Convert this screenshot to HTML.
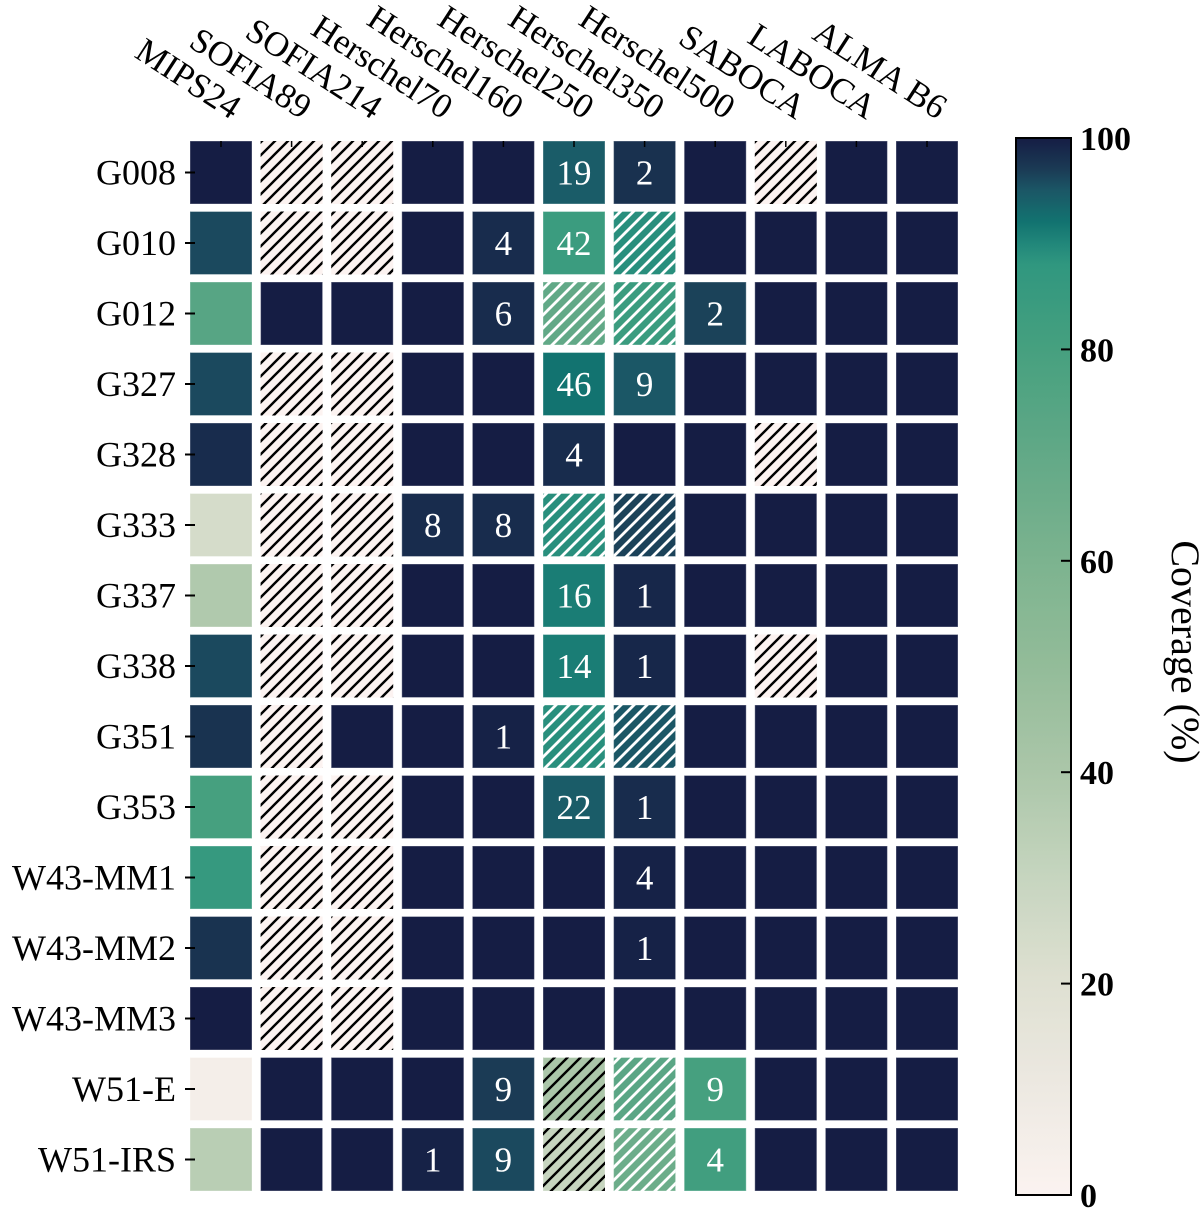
<!DOCTYPE html>
<html><head><meta charset="utf-8"><style>
html,body{margin:0;padding:0;background:#fff;}
svg{display:block;font-family:"Liberation Serif",serif;}
</style></head><body>
<svg id="chart" width="1200" height="1212" viewBox="0 0 1200 1212">
<defs>
<pattern id="hatch-b" patternUnits="userSpaceOnUse" width="13" height="13"><path d="M-1,1 l2,-2 M0,13 l13,-13 M12,14 l2,-2" stroke="#000" stroke-width="2.4"/></pattern>
<pattern id="hatch-w" patternUnits="userSpaceOnUse" width="13" height="13"><path d="M-1,1 l2,-2 M0,13 l13,-13 M12,14 l2,-2" stroke="#fff" stroke-width="2.8"/></pattern>
<linearGradient id="cbar-grad" x1="0" y1="1" x2="0" y2="0"></linearGradient>
</defs>
<g id="cells"></g>
<g id="xlabels"></g>
<g id="ylabels"></g>
<g id="cbar"></g>
<text x="1172" y="652" font-size="40" text-anchor="middle" transform="rotate(90 1172 652)">Coverage (%)</text>
</svg>
<script>
const columns = ["MIPS24","SOFIA89","SOFIA214","Herschel70","Herschel160","Herschel250","Herschel350","Herschel500","SABOCA","LABOCA","ALMA B6"];
const rows = ["G008","G010","G012","G327","G328","G333","G337","G338","G351","G353","W43-MM1","W43-MM2","W43-MM3","W51-E","W51-IRS"];
// coverage (%) per cell; null = not available
const coverage = [
 [100,null,null,100,100,94.5,98,100,null,100,100],
 [96,null,null,100,98.5,84,89,100,100,100,100],
 [74,100,100,100,98.5,70,84,96.5,100,100,100],
 [96,null,null,100,100,92,95,100,100,100,100],
 [98.5,null,null,100,100,98.5,100,100,null,100,100],
 [24,null,null,98.5,98.5,89,96.5,100,100,100,100],
 [38,null,null,100,100,91,99,100,100,100,100],
 [96,null,null,100,100,91,99,100,null,100,100],
 [97.8,null,100,100,99.5,89,95,100,100,100,100],
 [80,null,null,100,100,94.5,98.5,100,100,100,100],
 [86,null,null,100,100,100,99.5,100,100,100,100],
 [97.8,null,null,100,100,100,99.5,100,100,100,100],
 [100,null,null,100,100,100,100,100,100,100,100],
 [5,100,100,100,97,40,73,80,100,100,100],
 [35,100,100,99.5,96,30,66,82,100,100,100]
];
// printed annotations
const annotations = [
 ["","","","","","19","2","","","",""],
 ["","","","","4","42","","","","",""],
 ["","","","","6","","","2","","",""],
 ["","","","","","46","9","","","",""],
 ["","","","","","4","","","","",""],
 ["","","","8","8","","","","","",""],
 ["","","","","","16","1","","","",""],
 ["","","","","","14","1","","","",""],
 ["","","","","1","","","","","",""],
 ["","","","","","22","1","","","",""],
 ["","","","","","","4","","","",""],
 ["","","","","","","1","","","",""],
 ["","","","","","","","","","",""],
 ["","","","","9","","","9","","",""],
 ["","","","1","9","","","4","","",""]
];
// hatch flags: w = white hatch over colour, b = black hatch over colour
const hatches = [
 ["","","","","","","","","","",""],
 ["","","","","","","w","","","",""],
 ["","","","","","w","w","","","",""],
 ["","","","","","","","","","",""],
 ["","","","","","","","","","",""],
 ["","","","","","w","w","","","",""],
 ["","","","","","","","","","",""],
 ["","","","","","","","","","",""],
 ["","","","","","w","w","","","",""],
 ["","","","","","","","","","",""],
 ["","","","","","","","","","",""],
 ["","","","","","","","","","",""],
 ["","","","","","","","","","",""],
 ["","","","","","b","w","","","",""],
 ["","","","","","b","w","","","",""]
];
const cbarTicks = [0,20,40,60,80,100];

const stops = [[0,"#fbf3f0"],[10,"#ede9e2"],[20,"#dfe0d2"],[30,"#c6d5bf"],[40,"#abc6a9"],[50,"#93bc99"],[60,"#7cb38f"],[70,"#62a987"],[80,"#46a07f"],[88,"#30977f"],[90,"#21877a"],[92,"#127370"],[95,"#1b5766"],[97,"#1b3b55"],[100,"#151d44"]];
function hex(c){return [1,3,5].map(i=>parseInt(c.substr(i,2),16));}
function cmap(v){
  v=Math.max(0,Math.min(100,v));
  for(let i=1;i<stops.length;i++){
    if(v<=stops[i][0]){
      const [a,ca]=stops[i-1],[b,cb]=stops[i];
      const t=(v-a)/(b-a),A=hex(ca),B=hex(cb);
      return "rgb("+A.map((x,k)=>Math.round(x+(B[k]-x)*t)).join(",")+")";
    }
  }
  return stops[stops.length-1][1];
}
const NS="http://www.w3.org/2000/svg";
function mk(tag,attrs,parent){const e=document.createElementNS(NS,tag);for(const k in attrs)e.setAttribute(k,attrs[k]);parent.appendChild(e);return e;}
const X0=190,XP=70.6,CW=62,Y0=141,YP=70.5,CH=63;
const xPos=i=>X0+i*XP, yPos=j=>Y0+j*YP;
const cells=document.getElementById("cells");
rows.forEach((r,j)=>{
  columns.forEach((c,i)=>{
    const v=coverage[j][i], x=xPos(i), y=yPos(j);
    const g=mk("g",{},cells);
    
    
    if(v===null){
      mk("rect",{x:x,y:y,width:CW,height:CH,fill:"#fcf3f1"},g);
      mk("rect",{x:x,y:y,width:CW,height:CH,fill:"url(#hatch-b)"},g);
    }else{
      mk("rect",{x:x,y:y,width:CW,height:CH,fill:cmap(v),stroke:"rgba(255,255,255,0.35)","stroke-width":1},g);
      const h=hatches[j][i];
      if(h) mk("rect",{x:x,y:y,width:CW,height:CH,fill:h==="w"?"url(#hatch-w)":"url(#hatch-b)"},g);
    }
    const a=annotations[j][i];
    if(a){const t=mk("text",{x:x+CW/2,y:y+CH/2+12,"font-size":35,fill:"#fff","text-anchor":"middle"},g);t.textContent=a;}
  });
});
const xl=document.getElementById("xlabels");
columns.forEach((c,i)=>{
  const cx=xPos(i)+CW/2;
  const tk=mk("line",{x1:cx,y1:141,x2:cx,y2:147,stroke:"#000","stroke-width":1.5},xl);
  
  
  const ax=cx+10, ay=120;
  const t=mk("text",{x:ax,y:ay,"font-size":35,"text-anchor":"end",transform:"rotate(33 "+ax+" "+ay+")"},xl);
  t.textContent=c;
  
  
});
const yl=document.getElementById("ylabels");
rows.forEach((r,j)=>{
  const cy=yPos(j)+CH/2;
  const tk=mk("line",{x1:185,y1:cy,x2:195,y2:cy,stroke:"#000","stroke-width":2},yl);
  
  
  const t=mk("text",{x:176,y:cy+12,"font-size":36,"text-anchor":"end"},yl);
  t.textContent=r;
  
  
});
// colorbar
const grad=document.getElementById("cbar-grad");
for(let v=0;v<=100;v+=1){mk("stop",{offset:(v/100),"stop-color":cmap(v)},grad);}
const cb=document.getElementById("cbar");
const CBX=1016,CBW=55,CBT=138,CBB=1195;
const cbY=v=>CBB-(v/100)*(CBB-CBT);
const cr=mk("rect",{x:CBX,y:CBT,width:CBW,height:CBB-CBT,fill:"url(#cbar-grad)",stroke:"#000","stroke-width":2},cb);


cbarTicks.forEach(v=>{
  const y=cbY(v);
  const tk=mk("line",{x1:CBX+CBW-10,y1:y,x2:CBX+CBW,y2:y,stroke:"#000","stroke-width":2},cb);
  
  
  const t=mk("text",{x:1080,y:y+12,"font-size":34,"font-weight":"bold"},cb);
  t.textContent=v;
  
  
});
</script>
</body></html>
